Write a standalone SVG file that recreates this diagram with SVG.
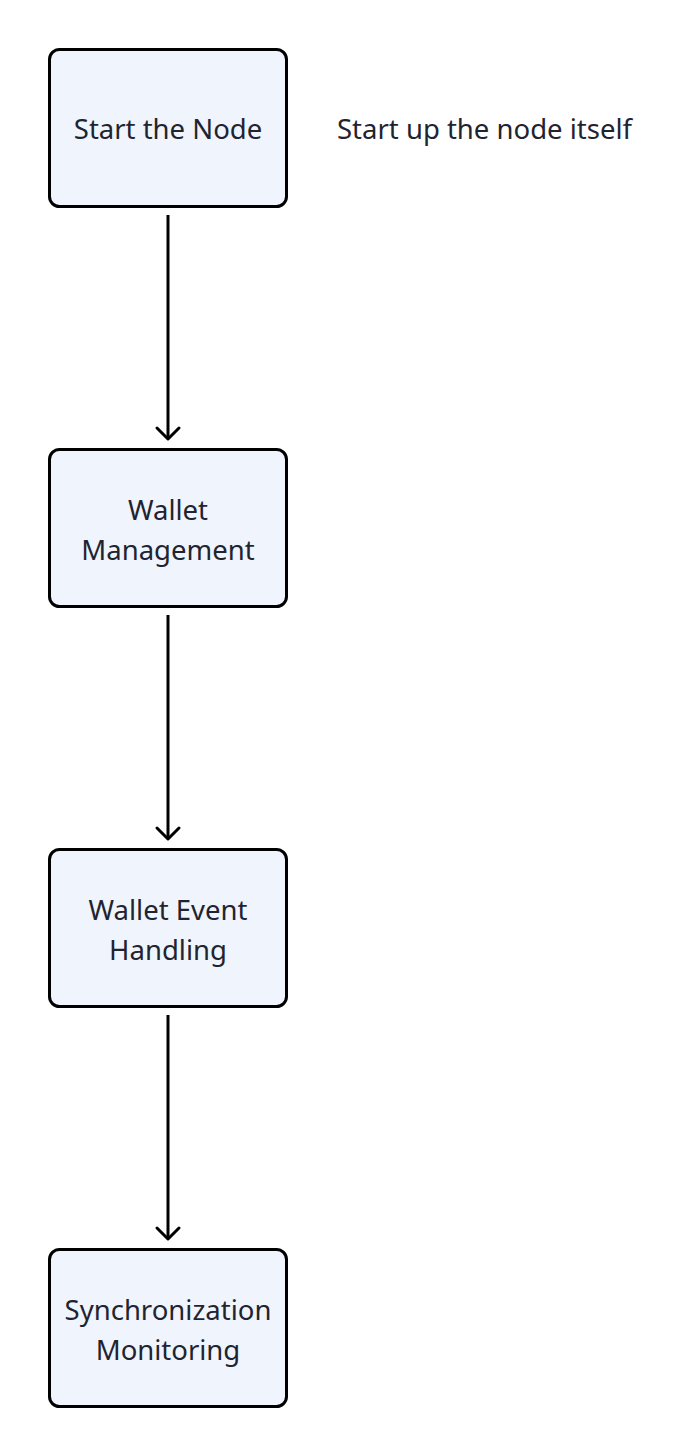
<svg xmlns="http://www.w3.org/2000/svg" width="682" height="1456" viewBox="0 0 682 1456">
<style>
.box{fill:#eff4fd;stroke:#000;stroke-width:3}
.t{font-family:"Noto Sans","Open Sans",sans-serif;font-size:27.5px;fill:#1f2430;text-anchor:middle}
.lbl{font-family:"Noto Sans","Open Sans",sans-serif;font-size:27.5px;fill:#1f2430}
.edge{stroke:#000;stroke-width:3;fill:none}
.head{stroke:#000;stroke-width:3;fill:none;stroke-linecap:round;stroke-linejoin:round}
</style>
<rect width="682" height="1456" fill="#fff"/>
<g id="edges">
<line class="edge" x1="168" y1="215" x2="168" y2="438"/>
<polyline class="head" points="157,428 168,439 179,428"/>
<line class="edge" x1="168" y1="615" x2="168" y2="838"/>
<polyline class="head" points="157,828 168,839 179,828"/>
<line class="edge" x1="168" y1="1015" x2="168" y2="1238"/>
<polyline class="head" points="157,1228 168,1239 179,1228"/>
</g>
<g id="n1">
<rect class="box" x="49.5" y="49.5" width="237" height="157" rx="10"/>
<text class="t" x="168" y="139">Start the Node</text>
</g>
<g id="label1">
<text class="lbl" x="337" y="139">Start up the node itself</text>
</g>
<g id="n2">
<rect class="box" x="49.5" y="449.5" width="237" height="157" rx="10"/>
<text class="t" x="168" y="520">Wallet</text>
<text class="t" x="168" y="560">Management</text>
</g>
<g id="n3">
<rect class="box" x="49.5" y="849.5" width="237" height="157" rx="10"/>
<text class="t" x="168" y="920">Wallet Event</text>
<text class="t" x="168" y="960">Handling</text>
</g>
<g id="n4">
<rect class="box" x="49.5" y="1249.5" width="237" height="157" rx="10"/>
<text class="t" x="168" y="1320">Synchronization</text>
<text class="t" x="168" y="1360">Monitoring</text>
</g>
</svg>
